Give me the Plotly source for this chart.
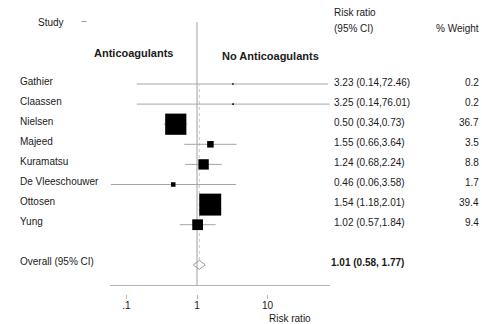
import math
import plotly.graph_objects as go

# ---------------- data ----------------
studies = ["Gathier", "Claassen", "Nielsen", "Majeed", "Kuramatsu",
           "De Vleeschouwer", "Ottosen", "Yung"]
rr = [3.23, 3.25, 0.50, 1.55, 1.24, 0.46, 1.54, 1.02]
ci_low = [0.14, 0.14, 0.34, 0.66, 0.68, 0.06, 1.18, 0.57]
ci_high = [72.46, 76.01, 0.73, 3.64, 2.24, 3.58, 2.01, 1.84]
weights = [0.2, 0.2, 36.7, 3.5, 8.8, 1.7, 39.4, 9.4]
overall_label = "Overall (95% CI)"
overall_rr = 1.01
overall_low = 0.58
overall_high = 1.77
tick_vals = [0.1, 1, 10]
tick_text = [".1", "1", "10"]

# ---------------- layout helpers ----------------
W, H = 482, 324
FONT = "Liberation Sans, Arial, Helvetica, sans-serif"
GRAY = "#a6a6a6"
TXT = "#1a1a1a"


def px(x):
    """page pixel x -> paper fraction"""
    return x / W


def py(y):
    """page pixel y -> paper fraction"""
    return 1 - y / H


rows = list(range(len(studies)))
overall_row = len(studies) + 1
ROW0, ROWH = 84, 20.1          # page y of first row, row pitch

fig = go.Figure()

# confidence interval whiskers
wx, wy = [], []
for r, lo, hi in zip(rows, ci_low, ci_high):
    wx += [lo, hi, None]
    wy += [r, r, None]
fig.add_trace(go.Scatter(x=wx, y=wy, mode="lines",
                         line=dict(color=GRAY, width=1),
                         hoverinfo="skip", showlegend=False))

# weight squares
fig.add_trace(go.Scatter(
    x=rr, y=rows, mode="markers",
    marker=dict(symbol="square", color="#000000", opacity=1,
                size=[3.5 * math.sqrt(w) for w in weights],
                line=dict(width=0)),
    hoverinfo="skip", showlegend=False))

shapes = []
# solid line of no effect
shapes.append(dict(type="line", xref="x", yref="paper", x0=1, x1=1,
                   y0=py(285.5), y1=py(22), layer="below",
                   line=dict(color="#a0a0a0", width=1)))
# dotted overall line
shapes.append(dict(type="line", xref="x", yref="paper", xsizemode="pixel",
                   xanchor=overall_rr, x0=2, x1=2, layer="below",
                   y0=py(260), y1=py(85),
                   line=dict(color="#c8c8c8", width=1, dash="dot")))
# overall diamond
shapes.append(dict(type="path", xref="x", yref="y",
                   xsizemode="pixel", ysizemode="pixel",
                   xanchor=overall_rr, yanchor=overall_row,
                   path="M-4,0 L2,4.5 L8,0 L2,-4.5 Z",
                   line=dict(color="#9a9a9a", width=1),
                   fillcolor="rgba(0,0,0,0)"))
# horizontal axis line
shapes.append(dict(type="line", xref="x domain", yref="paper", x0=0, x1=1,
                   y0=py(285.5), y1=py(285.5),
                   line=dict(color="#b5b5b5", width=1)))
# small dash after "Study"
shapes.append(dict(type="line", xref="paper", yref="paper",
                   x0=px(81.5), x1=px(86.5), y0=py(21.5), y1=py(21.5),
                   line=dict(color="#a0a0a0", width=1)))

ann = []


def text(x, y, s, size=10, bold=False, xanchor="left", color=TXT,
         yref="paper", yshift=0):
    ann.append(dict(x=x, y=y, xref="paper", yref=yref,
                    text=f"<b>{s}</b>" if bold else s,
                    showarrow=False, xanchor=xanchor, yanchor="middle",
                    yshift=yshift,
                    font=dict(family=FONT, size=size, color=color)))


# headers
text(px(36), py(23), "Study")
text(px(332), py(13), "Risk ratio")
text(px(332), py(29), "(95% CI)")
text(px(481), py(29), "% Weight", xanchor="right")
text(px(133), py(53), "Anticoagulants", size=11, bold=True, xanchor="center")
text(px(270), py(56), "No Anticoagulants", size=11, bold=True,
     xanchor="center")

# rows
for r, s, v, lo, hi, w in zip(rows, studies, rr, ci_low, ci_high, weights):
    text(px(18), r, s, yref="y", yshift=3)
    text(px(332), r, f"{v:.2f} ({lo:.2f},{hi:.2f})", yref="y", yshift=2)
    text(px(481), r, f"{w:.1f}", xanchor="right", yref="y", yshift=2)

text(px(18), overall_row, overall_label, yref="y", yshift=3)
text(px(329), overall_row,
     f"{overall_rr:.2f} ({overall_low:.2f}, {overall_high:.2f})",
     bold=True, yref="y", yshift=2)

# axis title
text(px(267), py(318), "Risk ratio")

# axis geometry: 70.5 px per decade, x=1 at page x 197
a, b = -1.235, 1.885
left = 197 - 70.5 * (0 - a)
right = left + 70.5 * (b - a)

fig.update_layout(
    width=W, height=H,
    margin=dict(l=0, r=0, t=0, b=0),
    paper_bgcolor="white", plot_bgcolor="white",
    showlegend=False,
    shapes=shapes,
    annotations=ann,
    xaxis=dict(type="log", range=[a, b],
               domain=[left / W, right / W],
               anchor="free", position=py(294),
               showgrid=False, zeroline=False, showline=False,
               ticks="outside", ticklen=4, tickwidth=1, tickcolor="#b5b5b5",
               ticklabelstandoff=-2,
               tickvals=tick_vals, ticktext=tick_text,
               tickfont=dict(family=FONT, size=10, color=TXT),
               fixedrange=True),
    yaxis=dict(range=[(H - ROW0) / ROWH, -ROW0 / ROWH],
               domain=[0, 1], visible=False, fixedrange=True),
)

# remove the browser's default 8px body margin so the figure fills the window
fig.write_html("out.html",
               config={"displayModeBar": False, "staticPlot": True},
               post_script="document.body.style.margin='0';"
                           "document.body.style.overflow='hidden';")
